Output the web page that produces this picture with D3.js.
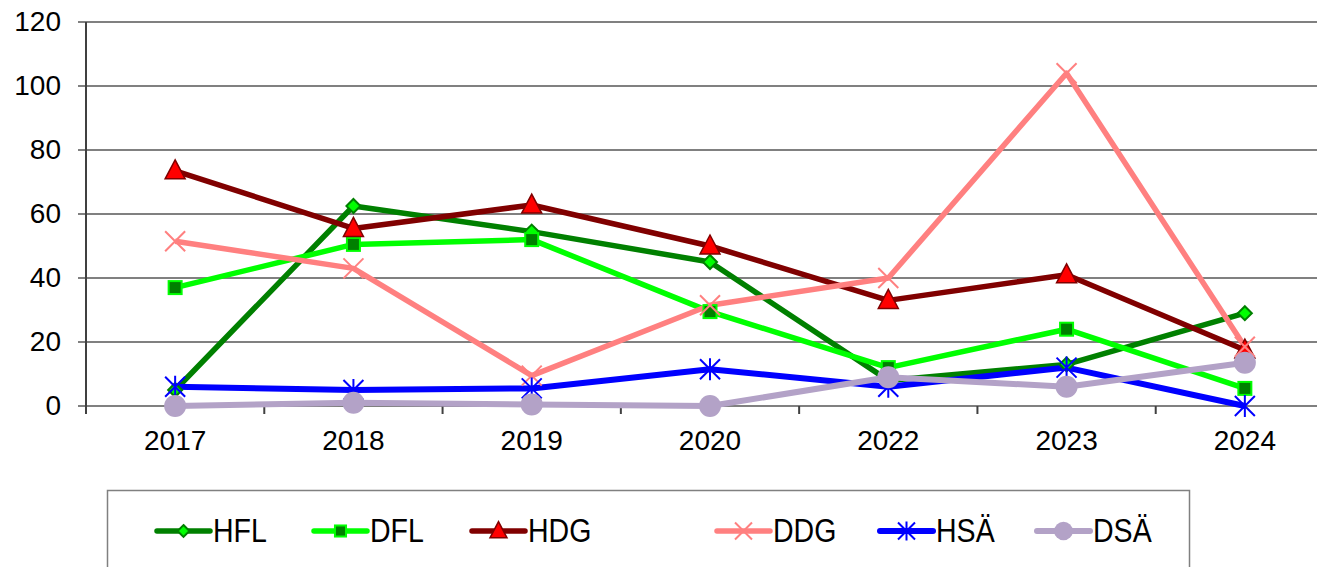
<!DOCTYPE html>
<html>
<head>
<meta charset="utf-8">
<script src="https://cdn.jsdelivr.net/npm/d3@7"></script>
<style>
  body { margin: 0; background: #fff; }
  svg { display: block; font-family: "Liberation Sans", Arial, sans-serif; }
</style>
</head>
<body>
<script>
//categories and tick labels
var years = ["2017", "2018", "2019", "2020", "2022", "2023", "2024"];
var yTicks = [0, 20, 40, 60, 80, 100, 120];

//series values
var hfl = [5, 62.5, 54.5, 45, 8, 13, 29];
var dfl = [37, 50.5, 52, 29.5, 12, 24, 5.5];
var hdg = [73.5, 55.5, 62.8, 50, 33, 41, 17.5];
var ddg = [51.5, 43, 9.5, 31.5, 40, 104, 18.5];
var hsa = [6, 5, 5.5, 11.5, 6, 12, 0];
var dsa = [0, 1, 0.5, 0, 9, 6, 13.5];

var seriesNames = ["HFL", "DFL", "HDG", "DDG", "HSÄ", "DSÄ"];
var seriesValues = [hfl, dfl, hdg, ddg, hsa, dsa];

//styling for each series
var styles = [
  {line: "#008000", marker: "diamond", fill: "#00ff00", stroke: "#008000", width: 5.5},
  {line: "#00ff00", marker: "square", fill: "#008000", stroke: "#00ff00", width: 5.5},
  {line: "#800000", marker: "triangle", fill: "#ff0000", stroke: "#800000", width: 5.5},
  {line: "#ff8080", marker: "x", fill: "none", stroke: "#ff8080", width: 5.5},
  {line: "#0000ff", marker: "star", fill: "none", stroke: "#0000ff", width: 6},
  {line: "#b3a2c7", marker: "circle", fill: "#b3a2c7", stroke: "#b3a2c7", width: 6}
];

var width = 1317, height = 567;

var svg = d3.select("body").append("svg")
    .attr("width", width)
    .attr("height", height);

var x = d3.scaleBand()
    .domain(years)
    .range([86, 1334]);

var y = d3.scaleLinear()
    .domain([0, 120])
    .range([406, 22]);

//horizontal gridlines
svg.selectAll(".grid")
  .data(yTicks)
  .enter()
  .append("line")
  .attr("class", "grid")
  .attr("x1", 78)
  .attr("x2", width)
  .attr("y1", function(d){ return y(d); })
  .attr("y2", function(d){ return y(d); })
  .attr("stroke", "#808080")
  .attr("stroke-width", 2);

//y axis labels
var yAxis = svg.append("g")
    .attr("transform", "translate(86,0)")
    .call(d3.axisLeft(y).tickValues(yTicks).tickSize(0).tickPadding(25));
yAxis.select(".domain").remove();
yAxis.selectAll("text")
    .attr("font-size", 28)
    .attr("font-family", "Liberation Sans, Arial, sans-serif")
    .attr("fill", "#000");

//y axis line
svg.append("line")
  .attr("x1", 86).attr("x2", 86)
  .attr("y1", y(120)).attr("y2", 414)
  .attr("stroke", "#404040")
  .attr("stroke-width", 2);

//x axis ticks at category boundaries
var bounds = years.map(function(d){ return x(d) + x.bandwidth(); });
svg.selectAll(".xtick")
  .data(bounds)
  .enter()
  .append("line")
  .attr("x1", function(d){ return d; })
  .attr("x2", function(d){ return d; })
  .attr("y1", y(0))
  .attr("y2", 414)
  .attr("stroke", "#404040")
  .attr("stroke-width", 2);

//x labels
svg.selectAll(".xlabel")
  .data(years)
  .enter()
  .append("text")
  .attr("x", function(d){ return x(d) + x.bandwidth() / 2; })
  .attr("y", 450)
  .attr("text-anchor", "middle")
  .attr("font-size", 28)
  .text(function(d){ return d; });

//marker drawing
function drawMarker(g, type, st, scale){
  var s = scale || 1;
  if (type == "diamond"){
    g.append("path").attr("d", "M0,-7L7,0L0,7L-7,0Z".replace(/\d+/g, function(n){ return n * s; }))
      .attr("fill", st.fill).attr("stroke", st.stroke).attr("stroke-width", 2);
  } else if (type == "square"){
    g.append("rect").attr("x", -6.5 * s).attr("y", -6.5 * s).attr("width", 13 * s).attr("height", 13 * s)
      .attr("fill", st.fill).attr("stroke", st.stroke).attr("stroke-width", 2);
  } else if (type == "triangle"){
    g.append("path").attr("d", "M0," + (-11 * s) + "L" + (10 * s) + "," + (8 * s) + "L" + (-10 * s) + "," + (8 * s) + "Z")
      .attr("fill", st.fill).attr("stroke", st.stroke).attr("stroke-width", 1.5);
  } else if (type == "x"){
    var r = 10 * s;
    g.append("path").attr("d", "M" + -r + "," + -r + "L" + r + "," + r + "M" + r + "," + -r + "L" + -r + "," + r)
      .attr("stroke", st.stroke).attr("stroke-width", 2).attr("fill", "none");
  } else if (type == "star"){
    var r2 = 10 * s;
    g.append("path").attr("d", "M" + -r2 + "," + -r2 + "L" + r2 + "," + r2 + "M" + r2 + "," + -r2 + "L" + -r2 + "," + r2 + "M0," + (-r2 - 1) + "L0," + (r2 + 1))
      .attr("stroke", st.stroke).attr("stroke-width", 2).attr("fill", "none");
  } else if (type == "circle"){
    g.append("circle").attr("r", 11 * s)
      .attr("fill", st.fill);
  }
}

var line = d3.line()
    .x(function(d, i){ return x(years[i]) + x.bandwidth() / 2; })
    .y(function(d){ return y(d); });

//lines first, markers on top
seriesValues.forEach(function(vals, k){
  svg.append("path")
    .datum(vals)
    .attr("d", line)
    .attr("fill", "none")
    .attr("stroke", styles[k].line)
    .attr("stroke-width", styles[k].width)
    .attr("stroke-linejoin", "round");
});

seriesValues.forEach(function(vals, k){
  vals.forEach(function(v, i){
    var g = svg.append("g")
      .attr("transform", "translate(" + (x(years[i]) + x.bandwidth() / 2) + "," + y(v) + ")");
    drawMarker(g, styles[k].marker, styles[k]);
  });
});

//legend
svg.append("rect")
  .attr("x", 107.5).attr("y", 490.5)
  .attr("width", 1082).attr("height", 100)
  .attr("fill", "#fff")
  .attr("stroke", "#808080")
  .attr("stroke-width", 1.5);

var legendX = [157, 314, 472, 717, 880, 1037];
var legend = svg.selectAll(".legend")
  .data(seriesNames)
  .enter()
  .append("g")
  .attr("transform", function(d, i){ return "translate(" + legendX[i] + ",531)"; });

legend.append("line")
  .attr("x1", 0).attr("x2", 53)
  .attr("stroke", function(d, i){ return styles[i].line; })
  .attr("stroke-width", function(d, i){ return styles[i].width; })
  .attr("stroke-linecap", "round");

legend.each(function(d, i){
  var g = d3.select(this).append("g").attr("transform", "translate(26.5,0)");
  drawMarker(g, styles[i].marker, styles[i], 0.85);
});

legend.append("text")
  .attr("transform", "translate(56,11) scale(0.84,1)")
  .attr("font-size", 34)
  .text(function(d){ return d; });
</script>
</body>
</html>
